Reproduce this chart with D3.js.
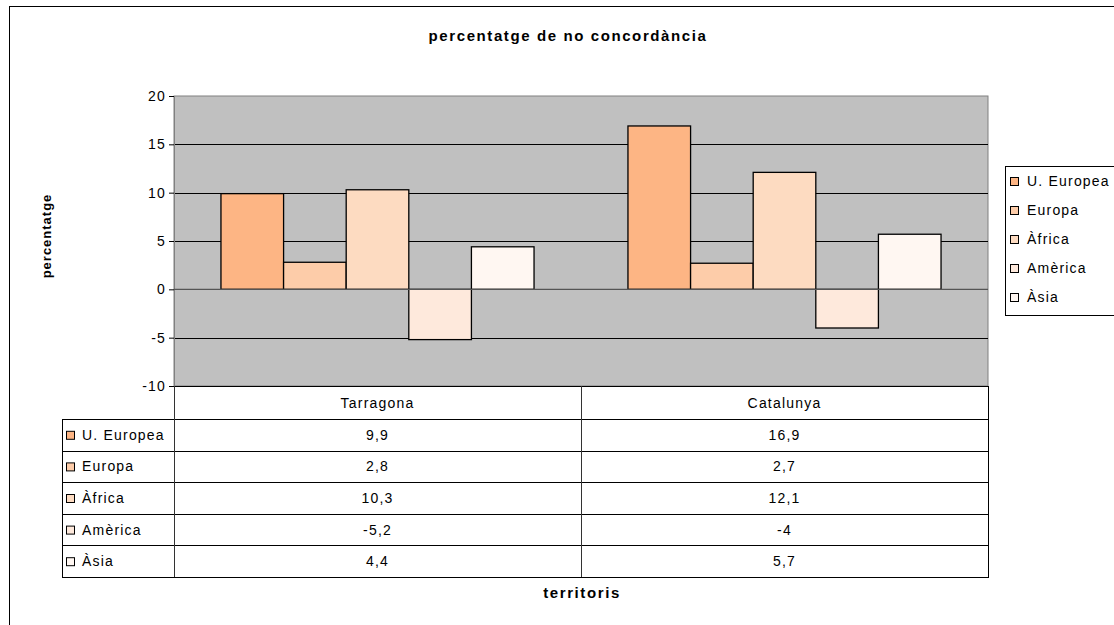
<!DOCTYPE html>
<html>
<head>
<meta charset="utf-8">
<script src="https://cdn.jsdelivr.net/npm/d3@7"></script>
<style>
  body { margin: 0; background: #fff; }
  svg { font-family: "Liberation Sans", Arial, sans-serif; }
  .lbl { font-size: 14px; letter-spacing: 1.2px; }
  .ttl { font-size: 15px; font-weight: bold; letter-spacing: 1.6px; }
</style>
</head>
<body>
<svg width="1114" height="625"></svg>
<script>
const territories = ["Tarragona", "Catalunya"];
const seriesNames = ["U. Europea", "Europa", "Àfrica", "Amèrica", "Àsia"];
const seriesColors = ["#FDB584", "#FDCCA9", "#FDDBC1", "#FEE9DC", "#FFF7F2"];
const valuesTarragona = [9.9, 2.8, 10.3, -5.2, 4.4];
const valuesCatalunya = [16.9, 2.7, 12.1, -4, 5.7];
const yTicks = [-10, -5, 0, 5, 10, 15, 20];

const values = [valuesTarragona, valuesCatalunya];
const svg = d3.select("svg");

// outer chart border
svg.append("rect")
  .attr("x", 9.5).attr("y", 6.5).attr("width", 1110).attr("height", 620)
  .attr("fill", "#fff").attr("stroke", "#000");

const plot = { left: 174, right: 988, top: 96, bottom: 386 };

const y = d3.scaleLinear().domain([-10, 20]).range([plot.bottom, plot.top]);
const x0 = d3.scaleBand().domain(territories).range([plot.left, plot.right]);
const x1 = d3.scaleBand().domain(seriesNames)
  .range([0, x0.bandwidth()]).paddingOuter(0.75);
const color = d3.scaleOrdinal(seriesNames, seriesColors);
const fmt = v => String(v).replace(".", ",");

// plot background
svg.append("rect")
  .attr("x", plot.left).attr("y", plot.top)
  .attr("width", plot.right - plot.left).attr("height", plot.bottom - plot.top)
  .attr("fill", "#C0C0C0").attr("stroke", "#808080");

// gridlines
svg.append("g").selectAll("line")
  .data(yTicks.filter(t => t !== 0 && t !== 20))
  .join("line")
  .attr("x1", plot.left).attr("x2", plot.right)
  .attr("y1", d => Math.round(y(d)) + 0.5).attr("y2", d => Math.round(y(d)) + 0.5)
  .attr("stroke", "#000");

// y axis
const yAxis = svg.append("g")
  .attr("transform", `translate(${plot.left},0)`)
  .call(d3.axisLeft(y).tickValues(yTicks).tickSize(5).tickPadding(3).tickFormat(d => String(d)))
  .attr("font-family", null).attr("font-size", null);
yAxis.selectAll("text").attr("class", "lbl").attr("fill", "#000");
yAxis.selectAll("line").attr("stroke", "#000");
yAxis.select(".domain").attr("stroke", "#808080");

// bars
svg.append("g").selectAll("g")
  .data(territories)
  .join("g")
  .attr("transform", d => `translate(${x0(d)},0)`)
  .selectAll("rect")
  .data((d, i) => values[i].map((v, j) => ({ name: seriesNames[j], v })))
  .join("rect")
  .attr("x", d => x1(d.name))
  .attr("y", d => y(Math.max(0, d.v)))
  .attr("width", x1.bandwidth())
  .attr("height", d => Math.abs(y(d.v) - y(0)))
  .attr("fill", d => color(d.name))
  .attr("stroke", "#000").attr("stroke-width", 1.3);

// zero line
svg.append("line")
  .attr("x1", plot.left).attr("x2", plot.right)
  .attr("y1", y(0)).attr("y2", y(0))
  .attr("stroke", "#555").attr("stroke-width", 1.2);

// titles
svg.append("text")
  .attr("class", "ttl")
  .attr("x", 568).attr("y", 41)
  .attr("text-anchor", "middle")
  .text("percentatge de no concordància");

svg.append("text")
  .attr("class", "ttl")
  .attr("transform", `translate(51,${(plot.top + plot.bottom) / 2 - 5}) rotate(-90)`)
  .attr("text-anchor", "middle")
  .style("font-size", "13px").style("letter-spacing", "1px")
  .text("percentatge");

svg.append("text")
  .attr("class", "ttl")
  .attr("x", 582).attr("y", 598)
  .attr("text-anchor", "middle")
  .text("territoris");

// data table
const table = { left: 62, top: 419, rowH: 31.6 };
const rowY = d3.scaleBand().domain(seriesNames)
  .range([table.top, table.top + table.rowH * seriesNames.length]);
const tableBottom = table.top + table.rowH * seriesNames.length;
const tg = svg.append("g");

// header cells
tg.append("rect")
  .attr("x", plot.left + 0.5).attr("y", plot.bottom + 0.5)
  .attr("width", plot.right - plot.left).attr("height", table.top - plot.bottom)
  .attr("fill", "#fff").attr("stroke", "#000");
tg.selectAll("text.head")
  .data(territories)
  .join("text").attr("class", "head lbl")
  .attr("x", d => x0(d) + x0.bandwidth() / 2)
  .attr("y", (plot.bottom + table.top) / 2 + 5)
  .attr("text-anchor", "middle")
  .text(d => d);

// body rows
tg.selectAll("line.row")
  .data(seriesNames)
  .join("line").attr("class", "row")
  .attr("x1", table.left).attr("x2", plot.right)
  .attr("y1", d => Math.round(rowY(d)) + 0.5).attr("y2", d => Math.round(rowY(d)) + 0.5)
  .attr("stroke", "#000");
tg.append("rect")
  .attr("x", table.left + 0.5).attr("y", table.top + 0.5)
  .attr("width", plot.right - table.left).attr("height", tableBottom - table.top)
  .attr("fill", "none").attr("stroke", "#000");
tg.selectAll("line.col")
  .data([plot.left, x0("Catalunya")])
  .join("line").attr("class", "col")
  .attr("x1", d => Math.round(d) + 0.5).attr("x2", d => Math.round(d) + 0.5)
  .attr("y1", plot.bottom).attr("y2", tableBottom)
  .attr("stroke", "#333");

tg.selectAll("rect.key")
  .data(seriesNames)
  .join("rect").attr("class", "key")
  .attr("x", 66.5).attr("y", d => rowY(d) + rowY.bandwidth() / 2 - 3.5)
  .attr("width", 8).attr("height", 8)
  .attr("fill", d => color(d)).attr("stroke", "#000");
tg.selectAll("text.key")
  .data(seriesNames)
  .join("text").attr("class", "key lbl")
  .attr("x", 82).attr("y", d => rowY(d) + rowY.bandwidth() / 2 + 5)
  .text(d => d);

territories.forEach((t, i) => {
  tg.selectAll(`text.val${i}`)
    .data(values[i])
    .join("text").attr("class", `val${i} lbl`)
    .attr("x", x0(t) + x0.bandwidth() / 2)
    .attr("y", (d, j) => rowY(seriesNames[j]) + rowY.bandwidth() / 2 + 5)
    .attr("text-anchor", "middle")
    .text(d => fmt(d));
});

// legend
const legend = svg.append("g");
legend.append("rect")
  .attr("x", 1005.5).attr("y", 166.5).attr("width", 110).attr("height", 149)
  .attr("fill", "#fff").attr("stroke", "#000");
const ly = d3.scalePoint().domain(seriesNames).range([181, 297]);
legend.selectAll("rect.sw")
  .data(seriesNames)
  .join("rect").attr("class", "sw")
  .attr("x", 1010.5).attr("y", d => ly(d) - 3.5)
  .attr("width", 8).attr("height", 8)
  .attr("fill", d => color(d)).attr("stroke", "#000");
legend.selectAll("text")
  .data(seriesNames)
  .join("text").attr("class", "lbl")
  .attr("x", 1027).attr("y", d => ly(d) + 5)
  .text(d => d);
</script>
</body>
</html>
